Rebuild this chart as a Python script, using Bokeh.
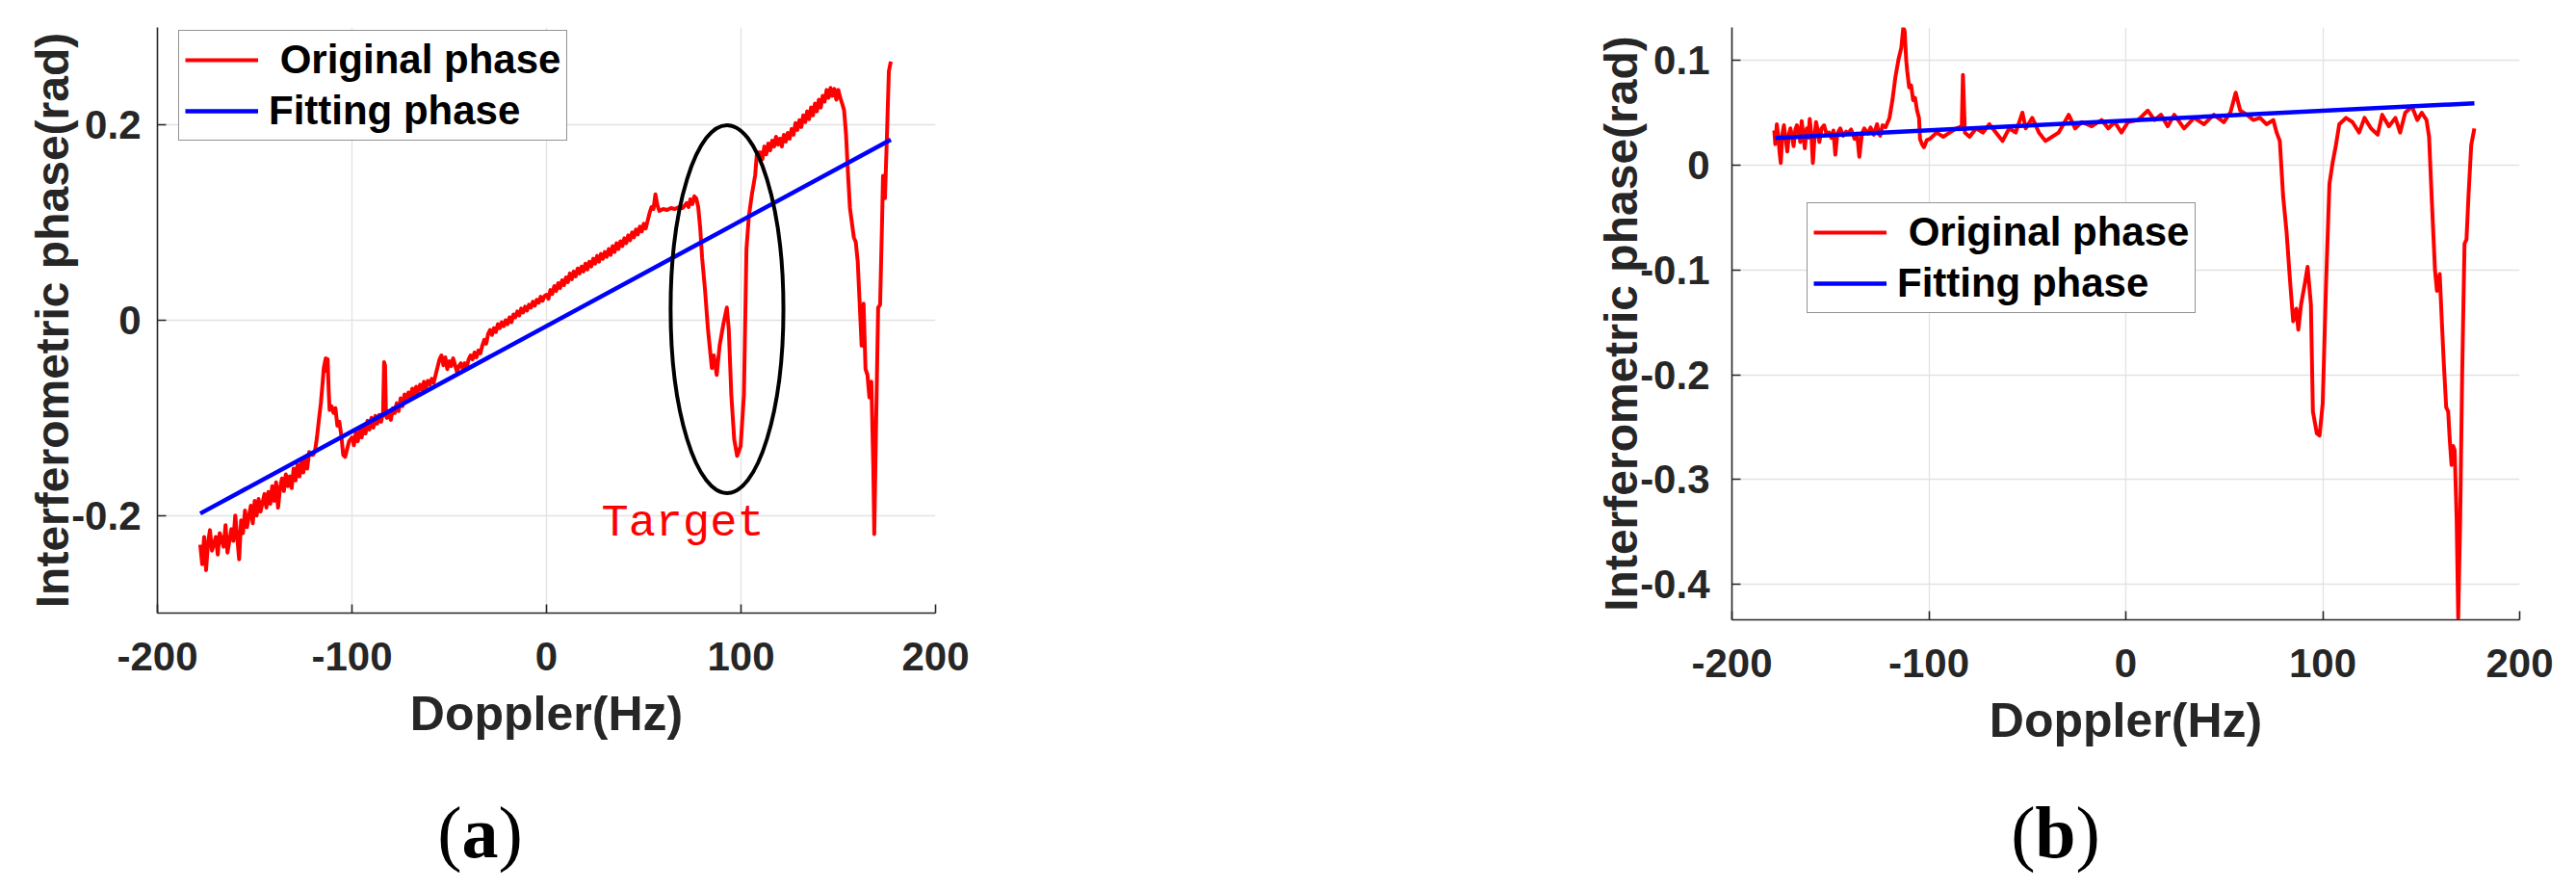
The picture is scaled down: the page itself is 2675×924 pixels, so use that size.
from bokeh.plotting import figure
from bokeh.models import Range1d, FixedTicker, Legend, LegendItem, Label
from bokeh.layouts import row, column
from bokeh.embed import file_html
from bokeh.resources import INLINE

# ---------------- data: panel (a) ----------------
doppler_a = [
    -178, -177, -176, -175, -174, -173, -172, -170, -169, -168, -166, -165, -164, -162, -161, -160,
    -159, -158, -157, -156, -155, -154, -152, -151, -150, -149, -148, -147, -145, -144, -143, -142,
    -141, -140, -139, -138, -137, -136, -135, -134, -133, -132, -131, -130, -129, -128, -127, -126,
    -125, -124, -123, -122, -121,
    -120, -119, -118, -117, -116, -115, -114.5, -114, -113.5, -113, -112.5, -112, -111.5, -110.5,
    -109.5, -108.5, -107.5, -106.5, -105.5, -104.5, -103.5, -102.5, -101.5,
    -100, -99, -98, -97, -96, -95, -94, -93, -92, -91, -90, -89, -88, -87, -86, -85, -84, -83.5,
    -83, -82.5, -82, -81, -80, -79, -78, -77, -76, -75, -74, -73, -72, -71, -70, -69, -68, -67,
    -66, -65, -64, -63, -62, -61, -60, -59, -58, -57, -56, -55,
    -54, -53, -52, -51, -50, -49, -48, -47, -46, -45, -44, -43, -42, -41, -40, -39, -38, -37, -36,
    -35, -34, -33, -32, -31, -30, -29, -28, -27, -26, -25, -24, -23, -22, -21, -20, -19, -18, -17,
    -16, -15, -14, -13, -12, -11, -10, -9, -8, -7, -6, -5, -4, -3, -2, -1,
    0, 1, 2, 3, 4, 5, 6, 7, 8, 9, 10, 11, 12, 13, 14, 15, 16, 17, 18, 19, 20, 21, 22, 23, 24, 25,
    26, 27, 28, 29, 30, 31, 32, 33, 34, 35, 36, 37, 38, 39, 40, 41, 42, 43, 44, 45, 46, 47, 48, 49,
    50, 51, 52, 53, 54, 55,
    56, 57, 58, 60, 62, 64, 66, 68, 70, 72, 73, 74, 75, 76, 77, 78,
    79, 80, 81.5, 83, 85, 86, 87.5, 89, 91, 92.7, 93.7, 95, 96.5, 98, 99.8, 101.5, 102.8, 104,
    105.6, 107.3, 108.2, 110,
    111, 112, 113, 114, 115, 116, 117, 118, 119, 120, 121, 122, 123, 124, 125, 126, 127, 128, 129,
    130, 131, 132, 133, 134, 135, 136, 137, 138, 139, 140, 141, 142, 143, 144, 145, 146, 147, 148,
    149, 150, 151, 152,
    153, 154, 155, 156, 157, 158, 159, 160, 161, 162, 163, 164, 165, 166, 167, 168, 168.5, 169.5,
    170.5, 171.5, 172.5, 173, 174, 175, 176, 177,
]
phase_a = [
    -0.230, -0.250, -0.222, -0.256, -0.228, -0.215, -0.236, -0.222, -0.240, -0.218, -0.232, -0.210,
    -0.238, -0.214, -0.226, -0.200, -0.222, -0.245, -0.205, -0.218, -0.195, -0.212, -0.190, -0.208,
    -0.185, -0.200, -0.183, -0.196, -0.178, -0.192, -0.176, -0.188, -0.170, -0.185, -0.166, -0.192,
    -0.172, -0.162, -0.175, -0.158, -0.170, -0.160, -0.172, -0.152, -0.164, -0.148, -0.160, -0.145,
    -0.156, -0.140, -0.152, -0.135, -0.138,
    -0.138, -0.134, -0.120, -0.102, -0.085, -0.062, -0.049, -0.044, -0.039, -0.052, -0.040, -0.070,
    -0.092, -0.088, -0.095, -0.090, -0.108, -0.104, -0.118, -0.138, -0.140, -0.132, -0.124,
    -0.120, -0.128, -0.115, -0.124, -0.112, -0.120, -0.108, -0.116, -0.103, -0.112, -0.100, -0.110,
    -0.098, -0.106, -0.097, -0.104, -0.094, -0.043, -0.046, -0.098, -0.100, -0.094, -0.102, -0.090,
    -0.095, -0.085, -0.093, -0.080, -0.088, -0.076, -0.083, -0.074, -0.079, -0.070, -0.077, -0.068,
    -0.074, -0.066, -0.071, -0.063, -0.070, -0.062, -0.066, -0.060, -0.064, -0.056, -0.048, -0.040,
    -0.036, -0.046, -0.038, -0.050, -0.042, -0.047, -0.039, -0.046, -0.053, -0.047, -0.044, -0.050,
    -0.044, -0.048, -0.040, -0.036, -0.040, -0.033, -0.038, -0.031, -0.034, -0.026, -0.020, -0.024,
    -0.014, -0.010, -0.015, -0.008, -0.012, -0.004, -0.008, -0.002, -0.006, 0.000, -0.004, 0.003,
    -0.002, 0.006, 0.003, 0.009, 0.005, 0.012, 0.008, 0.014, 0.010, 0.016, 0.013, 0.019, 0.015,
    0.021, 0.018, 0.024, 0.020, 0.025,
    0.026, 0.022, 0.031, 0.027, 0.035, 0.030, 0.038, 0.033, 0.041, 0.036, 0.044, 0.039, 0.048,
    0.042, 0.050, 0.045, 0.053, 0.048, 0.055, 0.050, 0.058, 0.052, 0.060, 0.055, 0.063, 0.058,
    0.066, 0.060, 0.068, 0.063, 0.070, 0.065, 0.073, 0.067, 0.076, 0.070, 0.079, 0.073, 0.081,
    0.076, 0.084, 0.079, 0.087, 0.082, 0.090, 0.085, 0.093, 0.088, 0.096, 0.091, 0.099, 0.094,
    0.102, 0.110, 0.116, 0.114,
    0.129, 0.118, 0.112, 0.114, 0.113, 0.115, 0.114, 0.116, 0.115, 0.120, 0.116, 0.124, 0.119,
    0.127, 0.125, 0.116,
    0.095, 0.064, 0.031, -0.009, -0.049, -0.036, -0.056, -0.026, -0.003, 0.013, -0.009, -0.076,
    -0.122, -0.139, -0.129, -0.076, 0.073, 0.106, 0.129, 0.149, 0.172, 0.172,
    0.165, 0.178, 0.170, 0.181, 0.174, 0.184, 0.178, 0.188, 0.180, 0.186, 0.178, 0.190, 0.183,
    0.192, 0.186, 0.196, 0.190, 0.202, 0.195, 0.205, 0.198, 0.210, 0.203, 0.214, 0.206, 0.218,
    0.210, 0.222, 0.214, 0.226, 0.218, 0.230, 0.224, 0.236, 0.228, 0.238, 0.230, 0.237, 0.226,
    0.236, 0.228, 0.222,
    0.215, 0.190, 0.150, 0.115, 0.100, 0.085, 0.080, 0.060, 0.017, -0.026, 0.017, -0.050, -0.056,
    -0.079, -0.063, -0.150, -0.219, -0.100, 0.013, 0.016, 0.100, 0.148, 0.125, 0.188, 0.255, 0.265,
]
fit_doppler_a = [-178, 177]
fit_phase_a = [-0.198, 0.185]

# ---------------- data: panel (b) ----------------
doppler_b = [
    -178.5, -178, -177.2, -176.5, -175.8, -175.2, -174.4, -173.6, -172.8, -171.9, -171, -170.3,
    -169.5, -168.7, -167.8, -167, -166, -165.3, -164.6, -163.8, -163, -162, -161.2, -160.5, -159.7,
    -158.9, -158, -157.3, -156.4, -155.6, -154.5, -153.2, -152, -150.7, -149.5, -148.5, -147.5,
    -146.5, -145, -143.5, -142, -141, -139.5, -137.7, -136.5, -135.3, -134, -132.8, -131, -129.6,
    -128, -126.3, -125.5, -124.7, -123.5, -122,
    -120, -118.5, -117, -115.5, -114, -113, -112.3, -111.5, -111, -110, -109, -108, -107, -106,
    -105, -104.5, -103.5, -102.5, -101,
    -99.4, -96.1, -92.7, -89.4, -86, -83.3, -82.7, -81.7, -79.3, -76, -72.6, -69.3, -65.9, -62.6,
    -59.2, -55.9, -52.5, -50.8, -47.5, -44.1, -40.8, -37.4, -34.1, -29, -25.7, -22.3, -17.3, -12.3,
    -8.9, -5.6, -2.2, 1.1, 6.2, 11.2, 14.6, 17.9, 21.3, 24.6, 29.6, 34.7, 39.7, 44.7, 49.8, 53.1,
    55.8, 58.1, 61.5, 64.8, 68.2, 71.5, 74.9, 76.6,
    78.2, 79.9, 81.6, 83.3, 85, 86.6, 87.6, 89, 91, 92.3, 94, 95, 97, 98.4, 100, 101.7, 103.4, 105,
    106.7, 108.4, 111.8, 115.1, 118.5, 121.2, 124.5, 127.9, 130.2, 133.6, 136.9, 139.3, 141.9,
    145.3, 148, 150.3, 152.7, 154,
    155.4, 157, 158, 159.4, 160.5, 161.5, 162.7, 163.7, 164.5, 165.4, 166.2, 167, 168, 168.8, 169.8,
    170.8, 172, 173, 174, 175.4, 177,
]
phase_b = [
    0.033, 0.020, 0.039, 0.028, 0.012, 0.002, 0.030, 0.038, 0.026, 0.013, 0.030, 0.035, 0.028,
    0.018, 0.034, 0.038, 0.030, 0.022, 0.042, 0.030, 0.016, 0.035, 0.026, 0.044, 0.030, 0.002,
    0.028, 0.041, 0.033, 0.022, 0.035, 0.038, 0.030, 0.031, 0.026, 0.033, 0.010, 0.030, 0.035,
    0.028, 0.032, 0.030, 0.034, 0.025, 0.030, 0.008, 0.030, 0.035, 0.030, 0.036, 0.029, 0.039,
    0.030, 0.028, 0.038, 0.036,
    0.045, 0.062, 0.084, 0.100, 0.112, 0.131, 0.128, 0.100, 0.090, 0.074, 0.076, 0.062, 0.064,
    0.052, 0.045, 0.025, 0.020, 0.017, 0.024,
    0.025, 0.031, 0.027, 0.031, 0.035, 0.037, 0.086, 0.031, 0.027, 0.035, 0.031, 0.039, 0.031,
    0.023, 0.035, 0.031, 0.050, 0.035, 0.045, 0.031, 0.023, 0.027, 0.031, 0.048, 0.035, 0.041,
    0.037, 0.043, 0.035, 0.041, 0.031, 0.041, 0.043, 0.052, 0.043, 0.048, 0.037, 0.048, 0.035,
    0.045, 0.039, 0.048, 0.041, 0.050, 0.069, 0.052, 0.048, 0.043, 0.045, 0.039, 0.043, 0.031,
    0.023, -0.030, -0.063, -0.108, -0.149, -0.137, -0.157, -0.133, -0.112, -0.097, -0.133, -0.235,
    -0.256, -0.258, -0.227, -0.112, -0.018, 0.002,
    0.019, 0.039, 0.045, 0.041, 0.031, 0.045, 0.035, 0.029, 0.048, 0.037, 0.045, 0.031, 0.050,
    0.056, 0.043, 0.050, 0.043, 0.027,
    -0.034, -0.100, -0.120, -0.104, -0.150, -0.190, -0.231, -0.235, -0.262, -0.286, -0.268, -0.272,
    -0.338, -0.432, -0.338, -0.200, -0.075, -0.071, -0.030, 0.019, 0.035,
]
fit_doppler_b = [-178, 177]
fit_phase_b = [0.0258, 0.059]

# ---------------- axes ----------------
x_ticks = [-200, -100, 0, 100, 200]
x_tick_labels = ["-200", "-100", "0", "100", "200"]
y_ticks_a = [-0.2, 0, 0.2]
y_tick_labels_a = ["-0.2", "0", "0.2"]
y_ticks_b = [-0.4, -0.3, -0.2, -0.1, 0, 0.1]
y_tick_labels_b = ["-0.4", "-0.3", "-0.2", "-0.1", "0", "0.1"]
y_range_a = (-0.3, 0.3)
y_range_b = (-0.4338, 0.1313)

series_names = ["\u00a0Original phase", "Fitting phase"]
x_title = "Doppler(Hz)"
y_title = "Interferometric phase(rad)"
panel_tags = ["a", "b"]

SANS = "Liberation Sans"
SERIF = "Liberation Serif"
AXC = "#262626"
GRIDC = "#e2e2e2"
RED = "#ff0000"
BLUE = "#0000ff"


def make_panel(xs, ys, fx, fy, yticks, ylabels, yrange, borders, frame, ystand, legend_loc):
    bl, bt, br, bb = borders
    fw, fh = frame
    p = figure(frame_width=fw, frame_height=fh, x_range=Range1d(-200, 200),
               y_range=Range1d(*yrange), output_backend="svg", toolbar_location=None, tools="",
               min_border_left=bl, min_border_top=bt, min_border_right=br, min_border_bottom=bb)
    p.outline_line_color = None
    p.background_fill_color = "white"
    p.border_fill_color = "white"

    p.xaxis.ticker = FixedTicker(ticks=x_ticks)
    p.xaxis.major_label_overrides = dict(zip(x_ticks, x_tick_labels))
    p.yaxis.ticker = FixedTicker(ticks=yticks)
    p.yaxis.major_label_overrides = dict(zip(yticks, ylabels))
    for ax in (p.xaxis[0], p.yaxis[0]):
        ax.axis_line_color = AXC
        ax.axis_line_width = 1.6
        ax.major_tick_line_color = AXC
        ax.major_tick_line_width = 1.6
        ax.major_tick_in = 9
        ax.major_tick_out = 0
        ax.minor_tick_line_color = None
        ax.major_label_text_font = SANS
        ax.major_label_text_font_style = "bold"
        ax.major_label_text_font_size = "42px"
        ax.major_label_text_color = AXC
        ax.axis_label_text_font = SANS
        ax.axis_label_text_font_style = "bold"
        ax.axis_label_text_color = AXC
    p.xaxis.axis_label_text_font_size = "50px"
    p.yaxis.axis_label_text_font_size = "48px"
    p.xaxis.axis_label = x_title
    p.yaxis.axis_label = y_title
    p.xaxis.major_label_standoff = 30
    p.xaxis.axis_label_standoff = 14
    p.yaxis.major_label_standoff = ystand
    p.yaxis.axis_label_standoff = -10
    p.xgrid.grid_line_color = GRIDC
    p.ygrid.grid_line_color = GRIDC
    p.xgrid.grid_line_width = 1.3
    p.ygrid.grid_line_width = 1.3

    r1 = p.line(xs, ys, line_color=RED, line_width=4, line_join="round")
    r2 = p.line(fx, fy, line_color=BLUE, line_width=4.5)

    leg = Legend(items=[LegendItem(label=series_names[0], renderers=[r1]),
                        LegendItem(label=series_names[1], renderers=[r2])],
                 location=legend_loc)
    leg.label_text_font = SANS
    leg.label_text_font_style = "bold"
    leg.label_text_font_size = "42px"
    leg.label_text_color = "black"
    leg.glyph_width = 76
    leg.glyph_height = 40
    leg.label_height = 40
    leg.label_standoff = 11
    leg.padding = 6
    leg.spacing = 5
    leg.margin = 0
    leg.border_line_color = AXC
    leg.border_line_width = 1.6
    leg.background_fill_color = "white"
    leg.background_fill_alpha = 1.0
    p.add_layout(leg)
    return p


def make_tag(width, height, tag, cx, mid_y, half):
    t = figure(width=width, height=height, x_range=Range1d(0, width), y_range=Range1d(0, height),
               output_backend="svg", toolbar_location=None, tools="", min_border=0,
               x_axis_location=None, y_axis_location=None)
    t.outline_line_color = None
    t.grid.visible = False
    t.background_fill_color = "white"
    t.border_fill_color = "white"
    kw = dict(x_units="data", y_units="data", text_font=SERIF, text_font_size="76px",
              text_color="black", text_baseline="middle")
    t.add_layout(Label(x=cx - half, y=mid_y, text="(", text_align="right", **kw))
    t.add_layout(Label(x=cx, y=mid_y, text=tag, text_align="center", text_font_style="bold", **kw))
    t.add_layout(Label(x=cx + half, y=mid_y, text=")", text_align="left", **kw))
    return t


pa = make_panel(doppler_a, phase_a, fit_doppler_a, fit_phase_a, y_ticks_a, y_tick_labels_a, y_range_a,
                (163, 28, 621, 160), (808, 608), 17, (22, 490))
# target annotation in panel (a)
pa.ellipse(x=[92.8], y=[0.0114], width=[58], height=[0.377], fill_color=None,
           line_color="black", line_width=4)
pa.add_layout(Label(x=28.2, y=-0.208, text="Target", text_font="Liberation Mono",
                    text_font_size="47px", text_color=RED, text_align="left",
                    text_baseline="alphabetic"))

pb = make_panel(doppler_b, phase_b, fit_doppler_b, fit_phase_b, y_ticks_b, y_tick_labels_b, y_range_b,
                (206, 17, 43, 164), (818, 615), 23, (78, 318))

# tag rows: 112 px tall (page y 804..916), "(a)"/"(b)" centred around page y ~ 871
ta = make_tag(1592, 112, panel_tags[0], 498, 45, 19)
tb = make_tag(1067, 112, panel_tags[1], 542, 45, 21)

layout = column(row(pa, pb), row(ta, tb))
open("out.html", "w").write(file_html(layout, INLINE))
